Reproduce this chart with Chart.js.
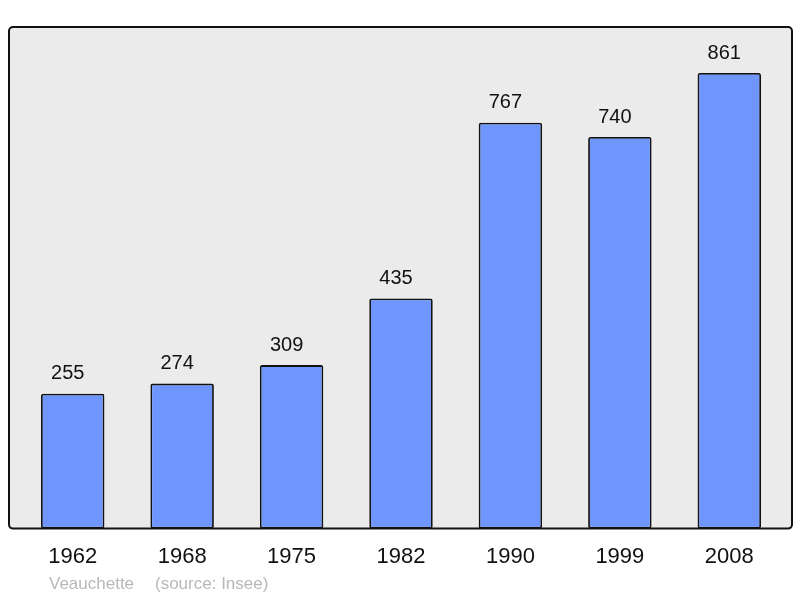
<!DOCTYPE html>
<html>
<head>
<meta charset="utf-8">
<script src="https://cdn.jsdelivr.net/npm/chart.js@4/dist/chart.umd.min.js"></script>
<style>
  html, body { margin: 0; padding: 0; background: #fff; }
  #wrap { width: 800px; height: 598px; }
</style>
</head>
<body>
<div id="wrap"><canvas id="chart" width="800" height="598"></canvas></div>
<script>
const YEARS      = ["1962", "1968", "1975", "1982", "1990", "1999", "2008"]
const POPULATION = [255, 274, 309, 435, 767, 740, 861]
const PLACE      = "Veauchette"
const SOURCE     = "(source: Insee)"

// grey panel with black frame behind the bars
const panel = {
  id: "panel",
  beforeDatasetsDraw(chart) {
    const { ctx, chartArea: a } = chart
    const x = a.left - 9, y = a.top, w = a.right - a.left + 17, h = a.bottom - a.top
    ctx.save()
    ctx.beginPath()
    ctx.roundRect(x, y, w, h, 4)
    ctx.fillStyle = "#ebebeb"
    ctx.fill()
    ctx.lineWidth = 2
    ctx.strokeStyle = "#111"
    ctx.stroke()
    ctx.restore()
  },
  afterDatasetsDraw(chart) {
    const { ctx } = chart
    const meta = chart.getDatasetMeta(0)
    ctx.save()
    ctx.font = "20px 'Liberation Sans', Arial, sans-serif"
    ctx.fillStyle = "#111"
    ctx.textAlign = "center"
    ctx.textBaseline = "middle"
    // value labels sit a little left of the bar centre, like the original
    meta.data.forEach((bar, i) => {
      ctx.fillText(String(POPULATION[i]), bar.x - 5, bar.y - 20)
    })
    // footer
    ctx.font = "17px 'Liberation Sans', Arial, sans-serif"
    ctx.fillStyle = "#b8b8b8"
    ctx.textAlign = "left"
    ctx.fillText(PLACE, 49, 584)
    ctx.fillText(SOURCE, 155, 584)
    ctx.restore()
  }
}

new Chart(document.getElementById("chart"), {
  type: "bar",
  data: {
    labels: YEARS,
    datasets: [{
      data: POPULATION,
      backgroundColor: "#6f96ff",
      borderColor:     "#111",
      borderWidth:     1.8,
      borderRadius:    2,
      borderSkipped:   false,
      barPercentage:      0.58,
      categoryPercentage: 1
    }]
  },
  options: {
    responsive: false,
    animation:  false,
    layout: { padding: { left: 18, right: 16, top: 27, bottom: 13 } },
    plugins: {
      legend:  { display: false },
      tooltip: { enabled: false }
    },
    scales: {
      x: {
        grid:   { display: false, drawTicks: false },
        border: { display: false },
        ticks:  { color: "#111", padding: 15, font: { size: 22, family: "'Liberation Sans', Arial, sans-serif" } }
      },
      y: {
        display: false,
        min: 0,
        max: 948
      }
    }
  },
  plugins: [panel]
})
</script>
</body>
</html>
